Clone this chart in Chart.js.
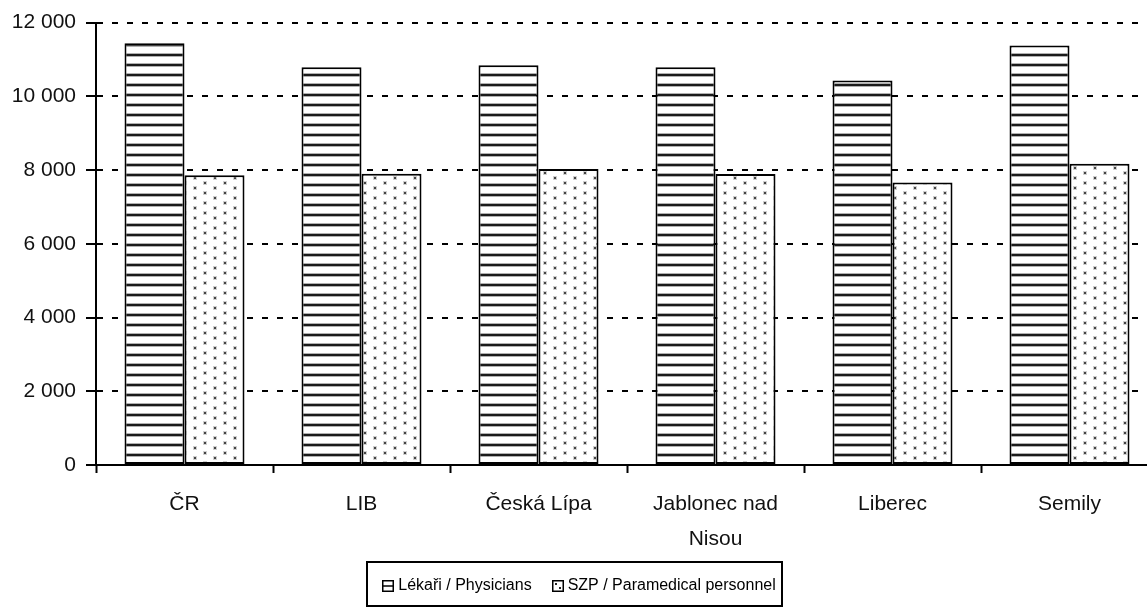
<!DOCTYPE html>
<html>
<head>
<meta charset="utf-8">
<script src="https://cdn.jsdelivr.net/npm/chart.js@4/dist/chart.umd.min.js"></script>
<style>
  html, body { margin: 0; padding: 0; background: #fff; overflow: hidden; }
  #wrap { position: absolute; left: 0; top: 0; width: 1158px; height: 609px; }
  canvas { display: block; }
</style>
</head>
<body>
<div id="wrap"><canvas id="c" width="1158" height="609"></canvas></div>
<script>
const categories = ['ČR', 'LIB', 'Česká Lípa', ['Jablonec nad', 'Nisou'], 'Liberec', 'Semily'];
const physicians = [11440, 10790, 10840, 10790, 10430, 11380];
const paramedical = [7860, 7900, 8030, 7890, 7660, 8170];
const seriesNames = ['Lékaři / Physicians', 'SZP / Paramedical personnel'];
const yTicks = [0, 2000, 4000, 6000, 8000, 10000, 12000];

function stripePattern() {
  const c = document.createElement('canvas');
  c.width = 10; c.height = 10;
  const x = c.getContext('2d');
  x.fillStyle = '#ffffff'; x.fillRect(0, 0, 10, 10);
  x.fillStyle = '#b0b0b0'; x.fillRect(0, 3, 10, 1); x.fillRect(0, 6, 10, 1);
  x.fillStyle = '#1a1a1a'; x.fillRect(0, 4, 10, 2);
  return x.createPattern(c, 'repeat');
}
function dotPattern() {
  const c = document.createElement('canvas');
  c.width = 20; c.height = 10;
  const x = c.getContext('2d');
  x.fillStyle = '#ffffff'; x.fillRect(0, 0, 20, 10);
  function dot(px, py) {
    x.fillStyle = '#d0d0d0'; x.fillRect(px - 1, py - 1, 4, 4);
    x.fillStyle = '#444444'; x.fillRect(px, py, 2, 2);
  }
  dot(4, 2); dot(14, 7);
  return x.createPattern(c, 'repeat');
}

const fontFamily = '"Liberation Sans", Arial, sans-serif';

const legendFrame = {
  id: 'legendFrame',
  afterDraw(chart) {
    const lg = chart.legend;
    if (!lg || !lg.legendHitBoxes || !lg.legendHitBoxes.length) return;
    const hb = lg.legendHitBoxes;
    const ctx = chart.ctx;
    ctx.save();
    hb.forEach((h, i) => {
      const bx = Math.round(h.left), by = Math.round(h.top + h.height / 2 - 6);
      ctx.fillStyle = '#fff';
      ctx.fillRect(bx, by, 12, 12);
      ctx.strokeStyle = '#000';
      ctx.lineWidth = 1.5;
      ctx.strokeRect(bx + 0.75, by + 0.75, 10.5, 10.5);
      if (i === 0) {
        ctx.beginPath(); ctx.moveTo(bx, by + 6); ctx.lineTo(bx + 12, by + 6); ctx.stroke();
      } else {
        ctx.fillStyle = '#222';
        ctx.fillRect(bx + 3, by + 3, 2, 2);
        ctx.fillRect(bx + 7, by + 7, 2, 2);
      }
    });
    const first = hb[0], last = hb[hb.length - 1];
    const l = Math.round(first.left - 15), r = Math.round(last.left + last.width + 6);
    const cy = Math.round(first.top + first.height / 2);
    ctx.strokeStyle = '#000';
    ctx.lineWidth = 2;
    ctx.strokeRect(l, cy - 24, r - l, 44);
    ctx.restore();
  }
};

new Chart(document.getElementById('c'), {
  type: 'bar',
  data: {
    labels: categories,
    datasets: [
      { label: seriesNames[0], data: physicians, backgroundColor: stripePattern(), borderColor: '#000', borderWidth: 2, borderSkipped: false },
      { label: seriesNames[1], data: paramedical, backgroundColor: dotPattern(), borderColor: '#000', borderWidth: 2, borderSkipped: false }
    ]
  },
  options: {
    responsive: false,
    animation: false,
    devicePixelRatio: 1,
    layout: { padding: { top: 21, left: 0, right: 0, bottom: 5 } },
    datasets: { bar: { categoryPercentage: 0.678, barPercentage: 1.0 } },
    plugins: {
      legend: {
        position: 'bottom',
        labels: {
          font: { family: fontFamily, size: 16 },
          color: '#000',
          boxWidth: 8,
          boxHeight: 8,
          padding: 20,
          generateLabels(chart) {
            return chart.data.datasets.map((d, i) => ({
              text: d.label, fillStyle: 'rgba(0,0,0,0)', strokeStyle: 'rgba(0,0,0,0)', lineWidth: 0, datasetIndex: i, hidden: false
            }));
          }
        }
      },
      tooltip: { enabled: false }
    },
    scales: {
      x: {
        afterFit(scale) { scale.height = 93; },
        grid: { drawOnChartArea: false, drawTicks: true, tickLength: 8, tickWidth: 2, tickColor: '#000', offset: true },
        border: { color: '#000', width: 2 },
        ticks: { color: '#111', font: { family: fontFamily, size: 21, lineHeight: 1.7 }, padding: 13, maxRotation: 0, autoSkip: false }
      },
      y: {
        min: 0, max: 12000,
        afterBuildTicks(scale) { scale.ticks = yTicks.map(v => ({ value: v })); },
        afterFit(scale) { scale.width = 96; },
        grid: { color: '#000', lineWidth: 2, tickLength: 10, tickColor: '#000', tickWidth: 2, tickBorderDash: [100, 0] },
        border: { color: '#000', width: 2, dash: [6, 9] },
        ticks: {
          color: '#111', padding: 10,
          font: { family: fontFamily, size: 21 },
          callback: v => String(v).replace(/\B(?=(\d{3})+(?!\d))/g, ' ')
        }
      }
    }
  },
  plugins: [legendFrame]
});
</script>
</body>
</html>
